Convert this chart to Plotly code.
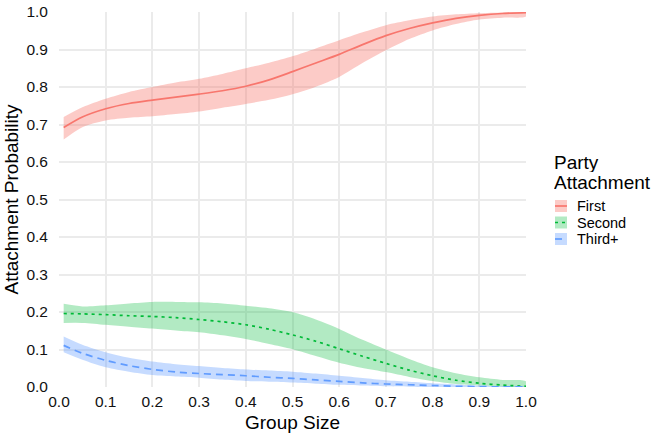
import plotly.graph_objects as go

# ---------------- data ----------------
group_size = [0.01, 0.05, 0.1, 0.15, 0.2, 0.25, 0.3, 0.35, 0.4, 0.45, 0.5,
              0.55, 0.6, 0.65, 0.7, 0.75, 0.8, 0.85, 0.9, 0.95, 1.0]

first_mean = [0.692, 0.720, 0.742, 0.756, 0.765, 0.773, 0.781, 0.790, 0.802, 0.819, 0.841,
              0.864, 0.887, 0.913, 0.937, 0.956, 0.971, 0.983, 0.991, 0.996, 0.998]
first_upper = [0.720, 0.746, 0.769, 0.787, 0.800, 0.812, 0.822, 0.835, 0.850, 0.865, 0.882,
               0.903, 0.925, 0.946, 0.965, 0.978, 0.988, 0.994, 0.997, 0.999, 1.000]
first_lower = [0.660, 0.693, 0.711, 0.718, 0.722, 0.728, 0.735, 0.745, 0.755, 0.766, 0.781,
               0.801, 0.827, 0.864, 0.898, 0.928, 0.951, 0.968, 0.980, 0.985, 0.988]

second_mean = [0.196, 0.195, 0.193, 0.190, 0.188, 0.185, 0.180, 0.174, 0.166, 0.154, 0.139,
               0.122, 0.102, 0.082, 0.063, 0.045, 0.030, 0.018, 0.010, 0.005, 0.002]
second_upper = [0.222, 0.215, 0.218, 0.223, 0.227, 0.227, 0.226, 0.223, 0.217, 0.210, 0.200,
                0.180, 0.155, 0.126, 0.100, 0.075, 0.053, 0.037, 0.026, 0.019, 0.015]
second_lower = [0.171, 0.171, 0.166, 0.161, 0.156, 0.151, 0.146, 0.138, 0.128, 0.115, 0.101,
                0.083, 0.065, 0.051, 0.040, 0.027, 0.016, 0.008, 0.004, 0.001, 0.000]

third_mean = [0.111, 0.090, 0.071, 0.057, 0.047, 0.040, 0.036, 0.033, 0.030, 0.026, 0.023,
              0.019, 0.015, 0.011, 0.008, 0.006, 0.004, 0.002, 0.001, 0.0005, 0.0]
third_upper = [0.135, 0.113, 0.093, 0.078, 0.068, 0.061, 0.056, 0.051, 0.047, 0.044, 0.041,
               0.036, 0.030, 0.024, 0.018, 0.014, 0.010, 0.007, 0.004, 0.002, 0.001]
third_lower = [0.093, 0.073, 0.053, 0.041, 0.032, 0.028, 0.025, 0.020, 0.016, 0.014, 0.012,
               0.009, 0.006, 0.004, 0.002, 0.001, 0.0, 0.0, 0.0, 0.0, 0.0]

series_names = ["First", "Second", "Third+"]
legend_title_lines = ["Party", "Attachment"]
x_ticks = [0.0, 0.1, 0.2, 0.3, 0.4, 0.5, 0.6, 0.7, 0.8, 0.9, 1.0]
y_ticks = [0.0, 0.1, 0.2, 0.3, 0.4, 0.5, 0.6, 0.7, 0.8, 0.9, 1.0]

# ---------------- style ----------------
line_colors = ["#F8766D", "#00BA38", "#619CFF"]
fill_colors = ["rgba(248,118,109,0.38)", "rgba(0,186,56,0.30)", "rgba(97,156,255,0.36)"]
dashes = ["solid", "3px,4px", "7px,5px"]
FONT = "Liberation Sans, Arial, sans-serif"

series = [
    (first_mean, first_upper, first_lower),
    (second_mean, second_upper, second_lower),
    (third_mean, third_upper, third_lower),
]

fig = go.Figure()
for (mean, up, lo), name, fc in zip(series, series_names, fill_colors):
    fig.add_trace(go.Scatter(
        x=group_size + group_size[::-1], y=up + lo[::-1],
        fill="toself", fillcolor=fc, line=dict(width=0, shape="spline", smoothing=0.8),
        mode="lines", hoverinfo="skip", showlegend=False, name=name + " CI"))
for (mean, up, lo), name, lc, dash in zip(series, series_names, line_colors, dashes):
    fig.add_trace(go.Scatter(
        x=group_size, y=mean, mode="lines", name=name, showlegend=False,
        line=dict(color=lc, width=1.7, dash=dash, shape="spline", smoothing=0.8)))

# ---------------- layout ----------------
L, R, T, B = 59, 131, 12, 51
W, H = 657, 438
pw, ph = W - L - R, H - T - B

def px_x(p):
    return (p - L) / pw

def px_y(p):
    return (H - B - p) / ph

shapes = []
annotations = []
for line_text, cy in zip(legend_title_lines, [162, 182]):
    annotations.append(dict(x=px_x(552), y=px_y(cy), xref="paper", yref="paper",
                            text=line_text, showarrow=False, xanchor="left", yanchor="middle",
                            height=20,
                            font=dict(family=FONT, size=19, color="#000000")))
for i, (name, lc, fc, dash) in enumerate(zip(series_names, line_colors, fill_colors, dashes)):
    cy = 206 + 16.5 * i
    shapes.append(dict(type="rect", xref="paper", yref="paper",
                       x0=px_x(555), x1=px_x(567), y0=px_y(cy - 6), y1=px_y(cy + 6),
                       fillcolor=fc, line=dict(width=0)))
    shapes.append(dict(type="line", xref="paper", yref="paper",
                       x0=px_x(555), x1=px_x(567), y0=px_y(cy), y1=px_y(cy),
                       line=dict(color=lc, width=1.7, dash=dash)))
    annotations.append(dict(x=px_x(575), y=px_y(cy), xref="paper", yref="paper",
                            text=name, showarrow=False, xanchor="left", yanchor="middle",
                            font=dict(family=FONT, size=14.5, color="#000000")))

fig.update_layout(
    width=W, height=H,
    margin=dict(l=L, r=R, t=T, b=B, pad=0, autoexpand=False),
    paper_bgcolor="white", plot_bgcolor="white",
    font=dict(family=FONT, size=15, color="#000000"),
    showlegend=False,
    shapes=shapes, annotations=annotations,
    xaxis=dict(range=[0, 1], tickvals=x_ticks, ticktext=[f"{v:.1f}" for v in x_ticks],
               automargin=False,
               showgrid=True, gridcolor="#EBEBEB", gridwidth=1.5, zeroline=False,
               showline=False, ticks="", ticklabelstandoff=3,
               tickfont=dict(family=FONT, size=15.5, color="#111111"),
               title=dict(text="Group Size", font=dict(family=FONT, size=19, color="#000000"), standoff=7)),
    yaxis=dict(range=[0, 1], tickvals=y_ticks, ticktext=[f"{v:.1f}" for v in y_ticks],
               automargin=False,
               showgrid=True, gridcolor="#EBEBEB", gridwidth=1.5, zeroline=False,
               showline=False, ticks="", ticklabelstandoff=10,
               tickfont=dict(family=FONT, size=15.5, color="#111111"),
               title=dict(text="Attachment Probability", font=dict(family=FONT, size=19, color="#000000"), standoff=2)),
)

fig.write_html("out.html")
